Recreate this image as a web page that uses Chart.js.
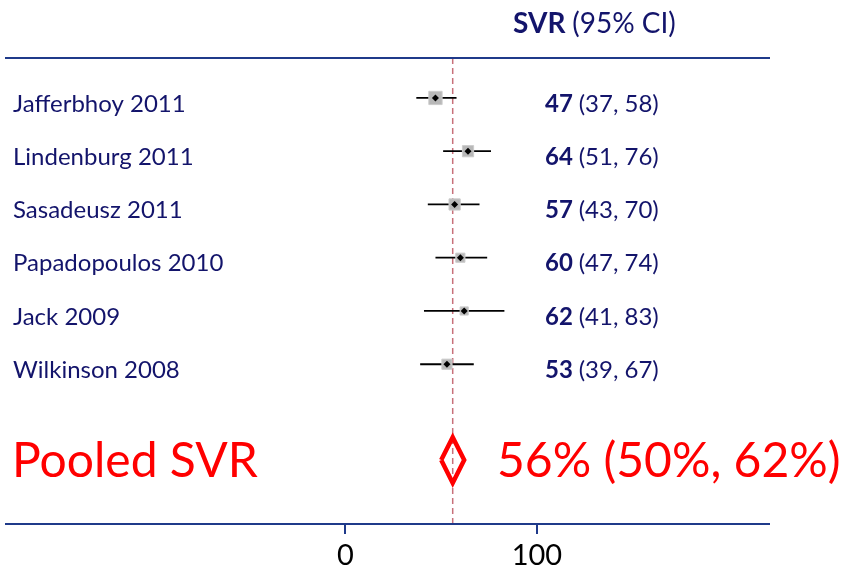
<!DOCTYPE html>
<html>
<head>
<meta charset="utf-8">
<script src="https://cdn.jsdelivr.net/npm/chart.js@4"></script>
<style>
  body { margin: 0; background: #fff; }
  canvas { display: block; }
</style>
</head>
<body>
<canvas id="forest" width="843" height="572"></canvas>
<script>
// study data
const studies = ['Jafferbhoy 2011', 'Lindenburg 2011', 'Sasadeusz 2011', 'Papadopoulos 2010', 'Jack 2009', 'Wilkinson 2008'];
const svr = [47, 64, 57, 60, 62, 53];
const lower = [37, 51, 43, 47, 41, 39];
const upper = [58, 76, 70, 74, 83, 67];
const weights = [25.8, 18.4, 18.4, 12.3, 9.8, 15.2];

// pooled estimate
const pooled = 56;
const pooledLower = 50;
const pooledUpper = 62;

const xTicks = [0, 100];

const NAVY = '#13146b';
const AXIS = '#1f3a8a';
const RED = '#ff0000';
const FONT = 'Lato';
const pooledRow = 7.8;

// one dataset per CI line
const ciSets = studies.map((s, i) => ({
    type: 'line',
    data: [{ x: lower[i], y: i + 1 }, { x: upper[i], y: i + 1 }],
    borderColor: '#000',
    borderWidth: 1.8,
    pointRadius: 0,
    order: 3
}));

const textPlugin = {
    id: 'forestText',
    afterDraw(chart) {
        const ctx = chart.ctx;
        const x = chart.scales.x;
        const y = chart.scales.y;
        const area = chart.chartArea;
        ctx.save();

        // top and bottom rules
        ctx.strokeStyle = AXIS;
        ctx.lineWidth = 2;
        ctx.beginPath();
        ctx.moveTo(area.left, Math.round(area.top));
        ctx.lineTo(area.right, Math.round(area.top));
        ctx.moveTo(area.left, Math.round(area.bottom));
        ctx.lineTo(area.right, Math.round(area.bottom));
        xTicks.forEach(v => {
            const px = Math.round(x.getPixelForValue(v));
            ctx.moveTo(px, area.bottom);
            ctx.lineTo(px, area.bottom + 10);
        });
        ctx.stroke();

        ctx.textBaseline = 'middle';
        ctx.textAlign = 'center';
        ctx.fillStyle = '#000';
        ctx.font = '29px ' + FONT;
        xTicks.forEach(v => ctx.fillText(String(v), x.getPixelForValue(v), 556));

        ctx.textAlign = 'left';
        ctx.fillStyle = NAVY;

        // header
        ctx.font = 'bold 28px ' + FONT;
        ctx.fillText('SVR', 513, 24);
        let w = ctx.measureText('SVR ').width;
        ctx.font = '28px ' + FONT;
        ctx.fillText('(95% CI)', 513 + w, 24);

        studies.forEach((name, i) => {
            const py = y.getPixelForValue(i + 1) + 6;
            ctx.font = '24px ' + FONT;
            ctx.fillText(name, 13, py);
            ctx.font = 'bold 24px ' + FONT;
            const est = String(svr[i]);
            ctx.fillText(est, 545, py);
            const ew = ctx.measureText(est + ' ').width;
            ctx.font = '24px ' + FONT;
            ctx.fillText('(' + lower[i] + ', ' + upper[i] + ')', 545 + ew, py);
        });

        const pp = y.getPixelForValue(pooledRow);
        ctx.fillStyle = RED;
        ctx.font = '48px ' + FONT;
        ctx.fillText('Pooled SVR', 12, pp + 1);
        ctx.fillText(pooled + '% (' + pooledLower + '%, ' + pooledUpper + '%)', 497, pp + 1);
        ctx.restore();
    }
};

new Chart(document.getElementById('forest'), {
    type: 'scatter',
    data: {
        datasets: [
            {
                // reference line at pooled estimate
                type: 'line',
                data: [{ x: pooled, y: 0.25 }, { x: pooled, y: 9 }],
                borderColor: '#c8707a',
                borderWidth: 1.5,
                borderDash: [6, 4],
                pointRadius: 0,
                order: 5
            },
            ...ciSets,
            {
                // weight squares
                data: svr.map((v, i) => ({ x: v, y: i + 1 })),
                pointStyle: 'rect',
                pointRadius: weights.map(w => Math.sqrt(w) * 1.85),
                backgroundColor: '#b8b8b8',
                borderColor: '#cccccc',
                borderWidth: 1,
                order: 2
            },
            {
                // point estimates
                data: svr.map((v, i) => ({ x: v, y: i + 1 })),
                pointStyle: 'rectRot',
                pointRadius: 3.5,
                backgroundColor: '#000',
                borderColor: '#000',
                borderWidth: 0,
                order: 1
            },
            {
                // pooled diamond
                type: 'line',
                data: [
                    { x: pooledLower, y: pooledRow },
                    { x: pooled, y: pooledRow - 0.43 },
                    { x: pooledUpper, y: pooledRow },
                    { x: pooled, y: pooledRow + 0.43 },
                    { x: pooledLower, y: pooledRow }
                ],
                borderColor: RED,
                borderWidth: 4.5,
                borderJoinStyle: 'miter',
                pointRadius: 0,
                order: 0
            }
        ]
    },
    options: {
        responsive: false,
        animation: false,
        layout: { autoPadding: false, padding: { left: 5, right: 73, top: 58, bottom: 48 } },
        plugins: {
            legend: { display: false },
            tooltip: { enabled: false }
        },
        scales: {
            x: {
                type: 'linear',
                min: -177.8,
                max: 221.7,
                display: false
            },
            y: {
                type: 'linear',
                min: 0.25,
                max: 9,
                reverse: true,
                display: false
            }
        }
    },
    plugins: [textPlugin]
});
</script>
</body>
</html>
